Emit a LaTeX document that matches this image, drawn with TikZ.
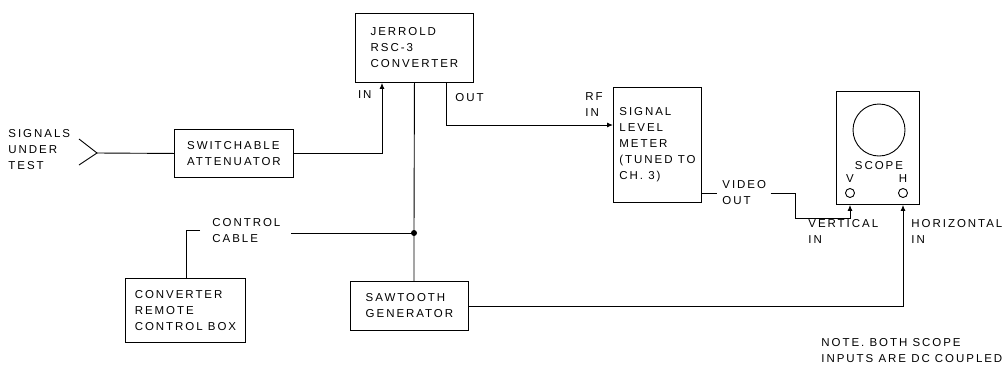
\documentclass[tikz,border=0pt]{standalone}
\usepackage{fontspec}
\setmainfont{Liberation Sans}[LetterSpace=17]
\usetikzlibrary{arrows.meta}

\begin{document}
\begin{tikzpicture}[x=1pt, y=-1pt, line width=0.9pt,
	every node/.style={font=\fontsize{11.5}{16}\selectfont, inner sep=0pt},
	blk/.style={draw, anchor=north west, align=left},
	lbl/.style={anchor=west, align=left},
	arr/.style={-{Latex[length=6pt, width=5pt]}}]
	\useasboundingbox (0,0) rectangle (1007,368);
	% blocks
	\node[blk, minimum width=118, minimum height=69] (conv) at (355,13) {JERROLD\\RSC-3\\CONVERTER};
	\node[blk, minimum width=119, minimum height=48] (att) at (174,129) {SWITCHABLE\\ATTENUATOR};
	\node[blk, minimum width=88, minimum height=115] (meter) at (613,87) {SIGNAL\\LEVEL\\METER\\(TUNED TO\\CH. 3)};
	\node[blk, minimum width=83, minimum height=113] (scope) at (836,91) {};
	\node[blk, minimum width=120, minimum height=64] (remote) at (125,278) {CONVERTER\\REMOTE\\CONTROL BOX};
	\node[blk, minimum width=118, minimum height=49] (saw) at (350,281) {SAWTOOTH\\GENERATOR};
	% scope face
	\node[draw, circle, minimum size=52] (screen) at (879,130) {};
	\node (scopelbl) at (879,166) {SCOPE};
	\node (vlbl) at (850,179) {V};
	\node (hlbl) at (903,179) {H};
	\node[draw, circle, minimum size=9] (vjack) at (850,193) {};
	\node[draw, circle, minimum size=9] (hjack) at (903,193) {};
	% input
	\node[lbl] (sig) at (8,150) {SIGNALS\\UNDER\\TEST};
	\coordinate (tip) at (97,153);
	\draw (79,139) -- (tip) -- (79,165);
	\draw (tip) -- (att.west);
	\draw[arr] (att.east) -| ([xshift=27pt]conv.south west);
	\node[anchor=east] (inlbl) at (372,95) {IN};
	% converter out
	\coordinate (rfin) at (613,125);
	\draw[arr] ([xshift=-27pt]conv.south east) |- (rfin);
	\node[lbl] (outlbl) at (455,98) {OUT};
	\node[lbl] (rflbl) at (585,105) {RF\\IN};
	% control cable and sweep
	\coordinate (jct) at (414,233);
	\draw (conv.south) -- (jct) -- (jct |- saw.north);
	\fill (jct) circle (3);
	\node[lbl] (cable) at (212,231) {CONTROL\\CABLE};
	\draw (jct) -- ([xshift=10pt]cable.east |- jct);
	\coordinate (cbend) at (186,230);
	\draw ([xshift=-12pt]cable.west |- cbend) -- (cbend) -- (remote.north -| cbend);
	\draw[arr] (saw.east) -| (hjack |- scope.south);
	% video
	\node[lbl] (video) at (722,193) {VIDEO\\OUT};
	\draw (meter.east |- video) -- ([xshift=-5pt]video.west);
	\coordinate (vbend) at (795,218);
	\draw[arr] ([xshift=4pt]video.east) -- (vbend |- video) -- (vbend) -| (vjack |- scope.south);
	% labels
	\node[lbl] (vertlbl) at (808,231) {VERTICAL\\IN};
	\node[lbl] (horlbl) at (911,231) {HORIZONTAL\\IN};
	\node[lbl] (note) at (821,351) {NOTE. BOTH SCOPE\\INPUTS ARE DC COUPLED};
\end{tikzpicture}
\end{document}
